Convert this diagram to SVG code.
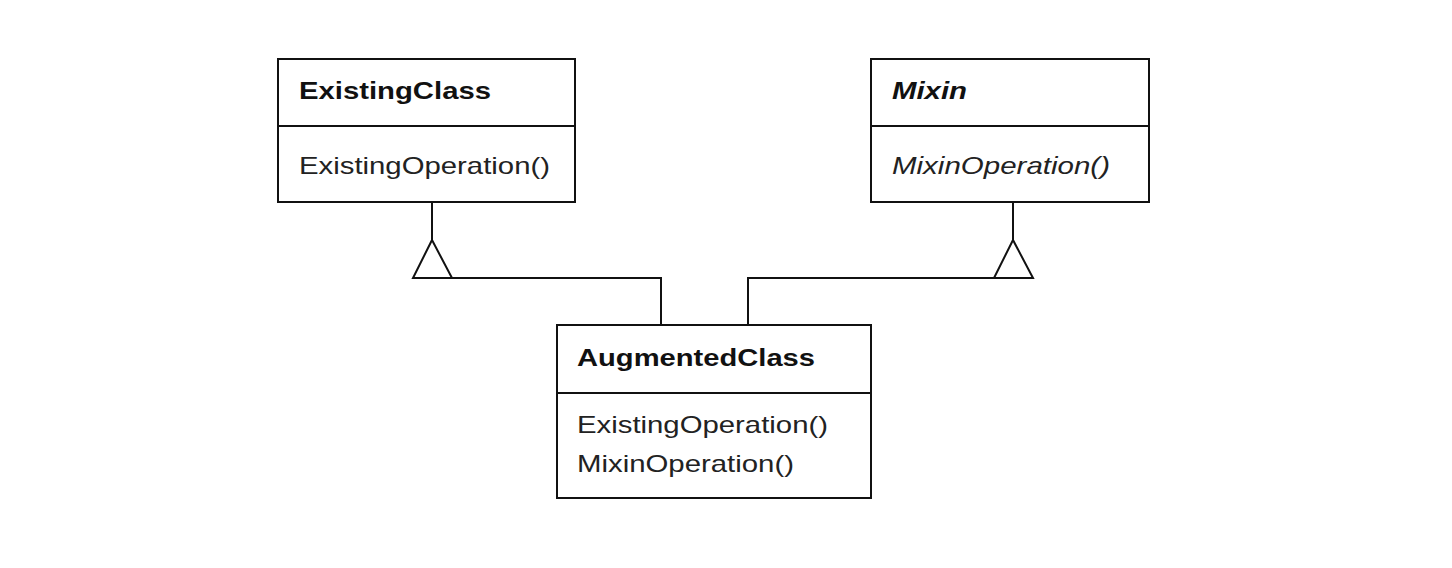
<svg xmlns="http://www.w3.org/2000/svg" width="1452" height="568" viewBox="0 0 1452 568">
<style>
.box{fill:#fff;stroke:#111;stroke-width:2}
.ln{fill:none;stroke:#111;stroke-width:2}
.tri{fill:#fff;stroke:#111;stroke-width:2;stroke-linejoin:miter}
.t{font-family:"Liberation Sans",Arial,sans-serif;font-size:24px;fill:#222}
.b{font-weight:bold;fill:#111}
.i{font-style:italic}
</style>
<rect width="1452" height="568" fill="#fff"/>
<g id="connectors">
<path class="ln" d="M432,202 V240"/>
<path class="ln" d="M452,278 H661 V325"/>
<path class="tri" d="M432,240 L413,278 L452,278 Z"/>
<path class="ln" d="M1013,202 V240"/>
<path class="ln" d="M995,278 H748 V325"/>
<path class="tri" d="M1013,240 L994,278 L1033,278 Z"/>
</g>
<g id="ExistingClass">
<rect class="box" x="278" y="59" width="297" height="143"/>
<line class="ln" x1="278" y1="126" x2="575" y2="126"/>
<text class="t b" x="299" y="99" textLength="192" lengthAdjust="spacingAndGlyphs">ExistingClass</text>
<text class="t" x="299" y="174" textLength="251" lengthAdjust="spacingAndGlyphs">ExistingOperation()</text>
</g>
<g id="Mixin">
<rect class="box" x="871" y="59" width="278" height="143"/>
<line class="ln" x1="871" y1="126" x2="1149" y2="126"/>
<text class="t b i" x="892" y="99" textLength="75" lengthAdjust="spacingAndGlyphs">Mixin</text>
<text class="t i" x="892" y="174" textLength="218" lengthAdjust="spacingAndGlyphs">MixinOperation()</text>
</g>
<g id="AugmentedClass">
<rect class="box" x="557" y="325" width="314" height="173"/>
<line class="ln" x1="557" y1="393" x2="871" y2="393"/>
<text class="t b" x="577" y="366" textLength="238" lengthAdjust="spacingAndGlyphs">AugmentedClass</text>
<text class="t" x="577" y="433" textLength="251" lengthAdjust="spacingAndGlyphs">ExistingOperation()</text>
<text class="t" x="577" y="472" textLength="217" lengthAdjust="spacingAndGlyphs">MixinOperation()</text>
</g>
</svg>
